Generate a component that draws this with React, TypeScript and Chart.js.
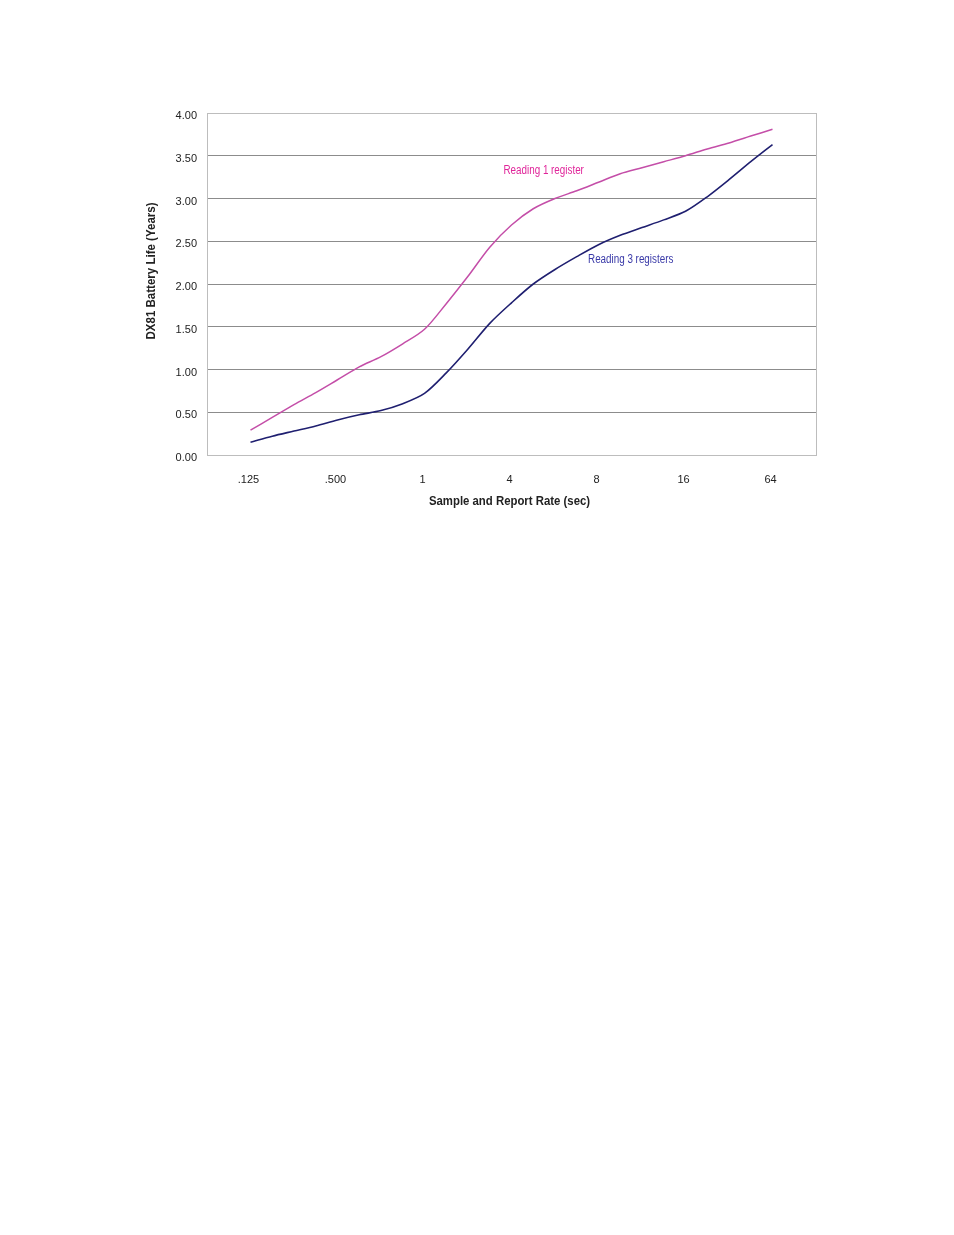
import React, { useEffect, useRef } from 'react';
import { Chart, registerables } from 'chart.js';

Chart.register(...registerables);

const RATE_LABELS = ['.125', '.500', '1', '4', '8', '16', '64'];
const SAMPLE_POS = [
  0, 0.25, 0.5, 0.75, 1, 1.25, 1.5, 1.75, 2, 2.25, 2.5, 2.75, 3,
  3.25, 3.5, 3.75, 4, 4.25, 4.5, 4.75, 5, 5.25, 5.5, 5.75, 6,
];
const ONE_REGISTER = [
  0.29, 0.44, 0.59, 0.73, 0.88, 1.03, 1.15, 1.3, 1.47, 1.77, 2.09, 2.43, 2.69,
  2.88, 3.0, 3.09, 3.19, 3.29, 3.36, 3.43, 3.5, 3.58, 3.65, 3.73, 3.81,
];
const THREE_REGISTERS = [
  0.15, 0.22, 0.28, 0.34, 0.41, 0.47, 0.52, 0.6, 0.72, 0.96, 1.24, 1.54, 1.78,
  2.0, 2.17, 2.32, 2.46, 2.57, 2.66, 2.75, 2.85, 3.02, 3.22, 3.43, 3.63,
];
const Y_TICKS = [0, 0.5, 1, 1.5, 2, 2.5, 3, 3.5, 4];
const SERIES_NAMES = ['Reading 1 register', 'Reading 3 registers'];
const NOTE_X = [3.37, 4.37];
const NOTE_Y = [3.32, 2.28];
const X_TITLE = 'Sample and Report Rate (sec)';
const Y_TITLE = 'DX81 Battery Life (Years)';

const FONT = "'Liberation Sans', Arial, Helvetica, sans-serif";
const LINE_COLORS = ['#c44ea8', '#1f1f70'];
const NOTE_COLORS = ['#e0259a', '#3a3aa8'];

function condensedText(ctx: any, text: string, x: number, y: number, sx: number, rot = 0) {
  ctx.save();
  ctx.translate(x, y);
  if (rot) ctx.rotate(rot);
  ctx.scale(sx, 1);
  ctx.fillText(text, 0, 0);
  ctx.restore();
}

const framePlugin = {
  id: 'frameAndNotes',
  afterDraw(chart: any) {
    const { ctx, chartArea, scales } = chart;
    ctx.save();
    ctx.strokeStyle = '#bdbdbd';
    ctx.lineWidth = 1;
    ctx.strokeRect(
      Math.round(chartArea.left) + 0.5,
      Math.round(chartArea.top) + 0.5,
      Math.round(chartArea.right - chartArea.left),
      Math.round(chartArea.bottom - chartArea.top)
    );
    ctx.textAlign = 'center';
    ctx.textBaseline = 'middle';
    ctx.font = `12px ${FONT}`;
    SERIES_NAMES.forEach((name, i) => {
      ctx.fillStyle = NOTE_COLORS[i];
      condensedText(
        ctx,
        name,
        scales.x.getPixelForValue(NOTE_X[i]),
        scales.y.getPixelForValue(NOTE_Y[i]),
        0.82
      );
    });
    ctx.fillStyle = '#222';
    ctx.font = `bold 13px ${FONT}`;
    condensedText(ctx, X_TITLE, (chartArea.left + chartArea.right) / 2 - 2, chartArea.bottom + 46, 0.875);
    ctx.font = `bold 12px ${FONT}`;
    condensedText(
      ctx,
      Y_TITLE,
      chartArea.left - 55,
      (chartArea.top + chartArea.bottom) / 2 - 13,
      0.96,
      -Math.PI / 2
    );
    ctx.restore();
  },
};

export default function App() {
  const ref = useRef<HTMLCanvasElement>(null);

  useEffect(() => {
    if (!ref.current) return;
    const makeData = (vals: number[]) => SAMPLE_POS.map((x, i) => ({ x, y: vals[i] }));
    const chart = new Chart(ref.current, {
      type: 'line',
      data: {
        datasets: [
          {
            label: SERIES_NAMES[0],
            data: makeData(ONE_REGISTER),
            borderColor: LINE_COLORS[0],
            borderWidth: 1.5,
            pointRadius: 0,
            tension: 0.3,
            fill: false,
          },
          {
            label: SERIES_NAMES[1],
            data: makeData(THREE_REGISTERS),
            borderColor: LINE_COLORS[1],
            borderWidth: 1.6,
            pointRadius: 0,
            tension: 0.3,
            fill: false,
          },
        ],
      },
      options: {
        responsive: false,
        animation: false,
        devicePixelRatio: 1,
        layout: { padding: { left: 140, right: 138, top: 113, bottom: 0 } },
        plugins: {
          legend: { display: false },
          tooltip: { enabled: false },
        },
        scales: {
          x: {
            type: 'linear',
            min: -0.5,
            max: 6.5,
            afterBuildTicks: (scale: any) => {
              scale.ticks = RATE_LABELS.map((_, i) => ({ value: i }));
            },
            afterFit: (scale: any) => {
              scale.height = 75;
            },
            grid: { display: false, drawTicks: false },
            border: { display: true, color: '#bdbdbd' },
            ticks: {
              autoSkip: false,
              maxRotation: 0,
              padding: 18,
              labelOffset: -2,
              color: '#222',
              font: { family: FONT, size: 11 },
              callback: (v: any) => RATE_LABELS[Math.round(Number(v))] ?? '',
            },
          },
          y: {
            min: 0,
            max: 4,
            afterBuildTicks: (scale: any) => {
              scale.ticks = Y_TICKS.map((v) => ({ value: v }));
            },
            afterFit: (scale: any) => {
              scale.width = 67;
            },
            grid: {
              drawTicks: false,
              color: (c: any) =>
                c.tick && (c.tick.value === 0 || c.tick.value === 4) ? '#bdbdbd' : '#8c8c8c',
            },
            border: { display: true, color: '#bdbdbd' },
            ticks: {
              padding: 10,
              labelOffset: 3,
              color: '#222',
              font: { family: FONT, size: 11 },
              callback: (v: any) => Number(v).toFixed(2),
            },
          },
        },
      },
      plugins: [framePlugin],
    });
    return () => chart.destroy();
  }, []);

  return (
    <div style={{ position: 'absolute', left: 0, top: 0, width: 954, height: 1235, background: '#fff' }}>
      <canvas ref={ref} width={954} height={530} style={{ display: 'block' }} />
    </div>
  );
}
